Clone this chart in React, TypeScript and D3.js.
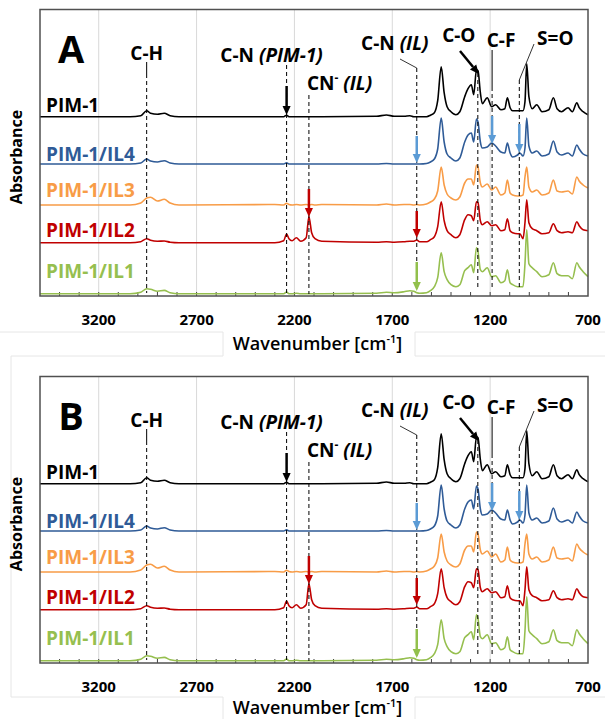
import React from "react";
import * as d3 from "d3";

// FTIR spectra of PIM-1 and PIM-1/IL membranes (two identical panels A and B)

// wavenumber grid (cm-1) shared by all the spectra
const wavenumbers = [
  3500, 3040, 2985, 2955, 2935, 2900, 2865, 2835, 2790, 2300,
  2255, 2240, 2228, 2212, 2190, 2168, 2140, 2126, 2112, 2095,
  2060, 1780, 1730, 1690, 1640, 1610, 1590, 1575, 1560, 1525,
  1505, 1485, 1468, 1450, 1435, 1420, 1400, 1375, 1355, 1330,
  1313, 1296, 1284, 1270, 1262, 1250, 1240, 1215, 1192, 1172,
  1145, 1125, 1112, 1098, 1085, 1060, 1048, 1032, 1022, 1013,
  1002, 985, 962, 935, 900, 877, 858, 835, 802, 780,
  757, 745, 725, 700,
];

// absorbance above each spectrum's own baseline (arb. units)
const pim1 = [
  0, 0, 1, 6, 3.5, 2.5, 3.5, 1, 0, 0,
  0, 1.5, 0, 0, 0, 0, 0, 0, 0, 0,
  0, 0.5, 1.7, 0.5, 0.5, 1, 0, 0, 0, 0,
  1.5, 4, 16, 50, 24, 10, 5, 2, 5, 20,
  28, 32, 22, 47, 46, 24, 13, 19, 10, 12,
  7, 8, 19, 9, 6, 6, 6, 6, 15, 53,
  20, 8, 12, 5, 7, 19, 8, 5, 9, 5,
  14, 9, 5, 2,
];
const il4 = [
  0, 0, 1, 5, 3, 2, 3.3, 1, 0, 0,
  0, 1.3, 0, 0, 0, 0, 0, 0, 0, 0,
  0, 0, 0.5, 0, 0, 0, 0, 0, 0, 0.5,
  2, 5, 15, 46, 22, 10, 6, 3, 6, 22,
  29, 31, 22, 45, 42, 22, 16, 17, 21, 18,
  12, 11, 21, 11, 7, 9, 11, 8, 16, 46,
  18, 11, 13, 8, 10, 23, 12, 9, 11, 8,
  19, 15, 10, 8,
];
const il3 = [
  0, 0, 2, 7, 7.7, 4, 5.7, 2, 0, 0.5,
  0, 1.7, 0.5, 0, 0.5, 0, 0.5, 0, 0.5, 0,
  0.5, 0, 1, 0, 0.5, 0.5, 0, 0.5, 0, 1,
  3, 6, 14, 38, 20, 11, 7, 5, 8, 22,
  26, 26, 20, 40, 38, 22, 18, 21, 15, 18,
  10, 12, 25, 12, 10, 9, 9, 10, 28, 38,
  18, 13, 15, 10, 12, 25, 14, 13, 14, 11,
  28, 24, 20, 17,
];
const il2 = [
  0, 0, 1, 4, 2.5, 1.5, 1.7, 0.5, 0, 0,
  2, 8.7, 4, 2, 5, 1.5, 5, 26, 10, 4,
  1.5, 0.5, 1, 0.5, 1, 1.5, 1.5, 2.7, 1, 1,
  3, 6, 16, 41, 22, 12, 8, 5, 8, 23,
  28, 27, 22, 41, 40, 22, 18, 21, 17, 18,
  12, 13, 24, 12, 10, 9, 9, 4, 20, 43,
  20, 14, 12, 9, 10, 19, 12, 10, 11, 10,
  21, 17, 13, 12,
];
const il1 = [
  0, 0, 1.5, 5, 4.5, 2.5, 3.3, 1, 0, 0,
  0, 1.7, 0, 0, 0.5, 0, 0, 0, 0, 0,
  0, 0.5, 1.5, 1, 2, 3, 2.5, 1, 0.5, 1,
  3, 7, 16, 41, 22, 14, 9, 7, 9, 23,
  26, 29, 21, 46, 42, 24, 22, 26, 17, 18,
  11, 13, 24, 11, 9, 7, 7, 7, 30, 64,
  30, 26, 22, 17, 19, 31, 20, 18, 18, 15,
  31, 27, 22, 17,
];

const seriesNames = ["PIM-1", "PIM-1/IL4", "PIM-1/IL3", "PIM-1/IL2", "PIM-1/IL1"];
const seriesValues = [pim1, il4, il3, il2, il1];
// vertical stacking offset of each spectrum (same units)
const seriesOffsets = [179.3, 132, 91, 53.3, 2.3];
const seriesColors = ["#000000", "#2f5b97", "#f89c47", "#c00000", "#96bf4f"];
const arrowColors = { black: "#000000", blue: "#5b9bd5", red: "#c00000", green: "#92c04c" };

const xTicks = [3200, 2700, 2200, 1700, 1200, 700];
const gridValues = [3200, 2700, 2200, 1700, 1200];

// band assignments (cm-1)
const bands = { ch: 2955, cnPim: 2240, cnAnion: 2126, cnIl: 1575, co: 1263, cf: 1190, so: 1051 };

const FONT = "'Open Sans', 'DejaVu Sans', sans-serif";
const left = 40, right = 588, top = 9.5, bottom = 296;
const labelBaselines = [111.5, 160.5, 197, 236.5, 278];

const x = d3.scaleLinear().domain([3500, 700]).range([left, right]);
const y = d3.scaleLinear().domain([0, 286.5]).range([bottom, top]);

const Arrow = ({ x1, y1, x2, y2, color, w = 2.5, head = 9 }: any) => {
  const ang = Math.atan2(y2 - y1, x2 - x1);
  const hw = head * 0.45;
  const bx = x2 - head * Math.cos(ang), by = y2 - head * Math.sin(ang);
  const p1 = [bx + hw * Math.sin(ang), by - hw * Math.cos(ang)];
  const p2 = [bx - hw * Math.sin(ang), by + hw * Math.cos(ang)];
  return (
    <g>
      <line x1={x1} y1={y1} x2={bx} y2={by} stroke={color} strokeWidth={w} />
      <polygon points={`${x2},${y2} ${p1[0]},${p1[1]} ${p2[0]},${p2[1]}`} fill={color} />
    </g>
  );
};

const Dash = ({ xv, y1, y2 }: any) => (
  <line x1={xv} x2={xv} y1={y1} y2={y2} stroke="#000" strokeWidth={1} strokeDasharray="4,3" />
);

const Panel = ({ letter, dy, titleY }: { letter: string; dy: number; titleY: number }) => {
  const line = d3.line<[number, number]>()
    .x(d => x(d[0]))
    .y(d => d[1])
    .curve(d3.curveMonotoneX);
  const minor = d3.range(3400, 700, -100);
  const xs = (k: keyof typeof bands) => x(bands[k]);
  return (
    <g transform={`translate(0,${dy})`} fontFamily={FONT}>
      {gridValues.map(v => (
        <line key={v} x1={x(v)} x2={x(v)} y1={top} y2={bottom} stroke="#d9d9d9" strokeWidth={1} />
      ))}
      {minor.map(v => (
        <line key={v} x1={x(v)} x2={x(v)} y1={bottom - 4} y2={bottom} stroke="#404040" strokeWidth={1} />
      ))}

      {seriesValues.map((vals, i) => {
        const pts = wavenumbers.map((w, j) => [w, y(seriesOffsets[i] + vals[j])] as [number, number]);
        return (
          <path key={i} d={line(pts) || ""} fill="none" stroke={seriesColors[i]}
            strokeWidth={1.6} strokeLinejoin="round" />
        );
      })}

      {/* band markers */}
      <line x1={xs("ch")} x2={xs("ch")} y1={62} y2={74} stroke="#000" strokeWidth={1} />
      <Dash xv={xs("ch")} y1={74} y2={293} />
      <Dash xv={xs("cnPim")} y1={65} y2={293} />
      <Dash xv={xs("cnAnion")} y1={95} y2={294} />
      <line x1={400} y1={59} x2={xs("cnIl")} y2={68} stroke="#000" strokeWidth={0.8} />
      <Dash xv={xs("cnIl")} y1={68} y2={292} />
      <Dash xv={xs("co")} y1={73} y2={290} />
      <line x1={xs("cf")} x2={xs("cf")} y1={50} y2={87} stroke="#000" strokeWidth={1} />
      <Dash xv={xs("cf")} y1={87} y2={290} />
      <line x1={534} y1={44} x2={xs("so")} y2={80} stroke="#000" strokeWidth={0.8} />
      <Dash xv={xs("so")} y1={80} y2={290} />

      <Arrow x1={xs("cnPim")} y1={86} x2={xs("cnPim")} y2={115} color={arrowColors.black} w={2.5} />
      <Arrow x1={xs("cnAnion")} y1={189} x2={xs("cnAnion")} y2={217} color={arrowColors.red} />
      <Arrow x1={xs("cnIl")} y1={136} x2={xs("cnIl")} y2={163} color={arrowColors.blue} />
      <Arrow x1={xs("cnIl")} y1={211} x2={xs("cnIl")} y2={238} color={arrowColors.red} />
      <Arrow x1={xs("cnIl")} y1={262} x2={xs("cnIl")} y2={291} color={arrowColors.green} />
      <Arrow x1={460} y1={51} x2={xs("co") + 1} y2={74} color={arrowColors.black} w={2.5} />
      <Arrow x1={xs("cf")} y1={116} x2={xs("cf")} y2={144} color={arrowColors.blue} />
      <Arrow x1={xs("so")} y1={124} x2={xs("so")} y2={153} color={arrowColors.blue} />

      {/* band labels */}
      <g fontWeight={700} fontSize={19} fill="#000">
        <text x={xs("ch")} y={59.5} textAnchor="middle">C-H</text>
        <text x={xs("cnPim") - 15} y={61.5} textAnchor="middle">
          C-N <tspan fontStyle="italic">(PIM-1)</tspan>
        </text>
        <text x={xs("cnAnion") - 2} y={89.5}>
          CN<tspan fontSize={12} dy={-8}>-</tspan>
          <tspan dy={8} fontStyle="italic"> (IL)</tspan>
        </text>
        <text x={xs("cnIl") - 22} y={49.5} textAnchor="middle">
          C-N <tspan fontStyle="italic">(IL)</tspan>
        </text>
        <text x={xs("co") - 19} y={41.5} textAnchor="middle">C-O</text>
        <text x={xs("cf") + 9} y={46.5} textAnchor="middle">C-F</text>
        <text x={xs("so") + 36} y={45} textAnchor="middle">S=O</text>
      </g>

      {seriesNames.map((n, i) => (
        <text key={n} x={46} y={labelBaselines[i]} fontSize={19} fontWeight={700} fill={seriesColors[i]}>
          {n}
        </text>
      ))}

      <text x={71} y={63} textAnchor="middle" fontSize={38} fontWeight={700} fill="#000">{letter}</text>

      <rect x={left} y={top} width={right - left} height={bottom - top} fill="none"
        stroke="#505050" strokeWidth={1.5} />

      {xTicks.map(v => (
        <text key={v} x={x(v)} y={bottom + 28.5} textAnchor="middle" fontSize={15} fontWeight={700} fill="#000">
          {v}
        </text>
      ))}
      <text x={317.5} y={titleY} textAnchor="middle" fontSize={18} fontWeight={600} fill="#000">
        Wavenumber [cm<tspan fontSize={11} dy={-7}>-1</tspan><tspan dy={7}>]</tspan>
      </text>
      <text transform={`translate(21.5,157) rotate(-90)`} textAnchor="middle" fontSize={16}
        fontWeight={700} fill="#000">Absorbance</text>
    </g>
  );
};

export default function App() {
  const faint = "#e6e6e6";
  return (
    <svg width={605} height={719} style={{ position: "absolute", left: 0, top: 0, background: "#fff" }}>
      <rect width={605} height={719} fill="#fff" />
      {/* outlines of the two stacked figure boxes */}
      <g stroke={faint} strokeWidth={1} fill="none">
        <path d="M0,332H223V356M415,356V332H605" />
        <path d="M11,697V356H223M415,356H605" />
        <path d="M11,697H223V719M415,719V697H605" />
      </g>
      <Panel letter="A" dy={0} titleY={349.5} />
      <Panel letter="B" dy={367} titleY={346.5} />
    </svg>
  );
}
